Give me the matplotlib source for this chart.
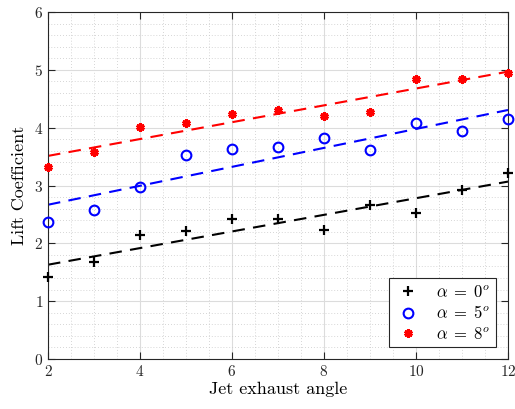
import numpy as np
import matplotlib.pyplot as plt
from matplotlib.ticker import MultipleLocator

plt.rcParams['font.family'] = 'serif'
plt.rcParams['font.serif'] = ['cmr10']
plt.rcParams['mathtext.fontset'] = 'cm'
plt.rcParams['axes.formatter.use_mathtext'] = True

# Jet exhaust angle vs. lift coefficient for three angles of attack
angle = np.arange(2, 13)
cl_a0 = [1.42, 1.68, 2.14, 2.21, 2.42, 2.42, 2.23, 2.66, 2.52, 2.92, 3.22]
cl_a5 = [2.37, 2.58, 2.97, 3.53, 3.63, 3.67, 3.82, 3.61, 4.08, 3.94, 4.15]
cl_a8 = [3.32, 3.58, 4.01, 4.08, 4.24, 4.31, 4.20, 4.27, 4.84, 4.84, 4.95]

fig = plt.figure(figsize=(5.15, 4.09), dpi=100)
ax = fig.add_axes([0.0932, 0.1222, 0.8932, 0.8485])

series = [
    (cl_a0, 'k', dict(marker='+', ms=7, mew=1.6, mfc='none'), r'$\alpha\;=\;0^o$'),
    (cl_a5, 'b', dict(marker='o', ms=7, mew=1.5, mfc='none'), r'$\alpha\;=\;5^o$'),
    (cl_a8, 'r', dict(marker=(6, 2, 0), ms=6, mew=2.2), r'$\alpha\;=\;8^o$'),
]

for cl, c, mk, lab in series:
    ax.plot(angle, cl, ls='none', color=c, mec=c, label=lab, zorder=3,
            clip_on=False, **mk)
    # least squares fit line
    p = np.polyfit(angle, cl, 1)
    ax.plot(angle, np.polyval(p, angle), '--', color=c, lw=1.5,
            dashes=(6, 4), zorder=2)

ax.set_xlim(2, 12)
ax.set_ylim(0, 6)
ax.xaxis.set_major_locator(MultipleLocator(2))
ax.xaxis.set_minor_locator(MultipleLocator(0.5))
ax.yaxis.set_major_locator(MultipleLocator(1))
ax.yaxis.set_minor_locator(MultipleLocator(0.2))

ax.grid(which='major', color='#dcdcdc', lw=0.8, zorder=0)
ax.grid(which='minor', color='#c8c8c8', lw=0.6, ls=(0, (1, 2.5)), zorder=0)
ax.set_axisbelow(True)

ax.tick_params(which='both', direction='in', top=True, right=True,
               labelsize=11, colors='#262626')
ax.tick_params(which='major', length=5, width=0.8)
ax.tick_params(which='minor', length=0)
for s in ax.spines.values():
    s.set_color('#262626')
    s.set_linewidth(0.8)

ax.set_xlabel('Jet exhaust angle', fontsize=13, labelpad=2)
ax.set_ylabel('Lift Coefficient', fontsize=13, labelpad=5)

leg = ax.legend(loc='lower right', fontsize=12, fancybox=False,
                edgecolor='#262626', framealpha=1, borderpad=0.35,
                handlelength=1.6, handletextpad=0.9, labelspacing=0.25,
                borderaxespad=0.7)
leg.get_frame().set_linewidth(0.8)

fig.savefig('out.png', dpi=100)
